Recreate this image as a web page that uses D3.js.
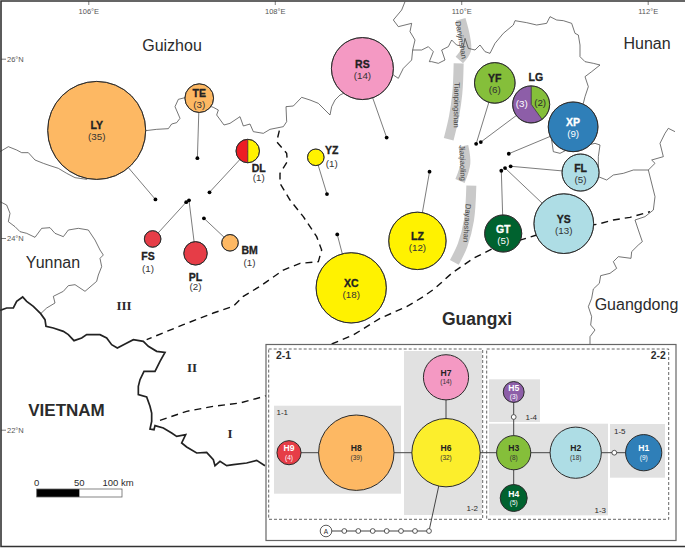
<!DOCTYPE html>
<html>
<head>
<meta charset="utf-8">
<script src="https://cdn.jsdelivr.net/npm/d3@7"></script>
<style>
  html, body { margin: 0; padding: 0; background: #fff; }
  svg { display: block; }
  text { font-family: "Liberation Sans", Arial, sans-serif; fill: #2b2b2b; }
  .tick text { font-size: 7.5px; fill: #555; }
  .tick line { stroke: #444; stroke-width: 0.7; }
</style>
</head>
<body>
<div class="chart"></div>
<script>
// Sites: name, sample count label, haplotypes and their counts
var siteNames = ["LY", "TE", "DL", "YZ", "FS", "PL", "BM", "RS", "YF", "LG", "XP", "FL", "YS", "GT", "LZ", "XC"];
var siteLabels = ["(35)", "(3)", "(1)", "(1)", "(1)", "(2)", "(1)", "(14)", "(6)", "", "(9)", "(5)", "(13)", "(5)", "(12)", "(18)"];
var siteHaps = [["H8"], ["H8"], ["H6", "H9"], ["H6"], ["H9"], ["H9"], ["H8"], ["H7"], ["H3"], ["H3", "H5"], ["H1"], ["H2"], ["H2"], ["H4"], ["H6"], ["H6"]];
var siteSlices = [[35], [3], [1, 1], [1], [1], [2], [1], [14], [6], [2, 3], [9], [5], [13], [5], [12], [18]];

// where the pie sits on the map
var pieLon = [106.09, 107.19, 107.71, 108.44, 106.69, 107.15, 107.52, 108.94, 110.36, 110.75, 111.20, 111.28, 111.10, 110.45, 109.53, 108.82];
var pieLat = [25.20, 25.56, 24.97, 24.90, 23.99, 23.84, 23.95, 25.89, 25.73, 25.49, 25.24, 24.73, 24.16, 24.05, 23.97, 23.48];
// the sampling locality
var dotLon = [106.72, 107.17, 107.30, 108.56, 107.05, 107.08, 107.24, 109.20, 110.16, 110.21, 110.51, 110.53, 110.47, 110.43, 109.66, 108.67];
var dotLat = [24.43, 24.89, 24.51, 24.49, 24.40, 24.42, 24.22, 25.12, 25.05, 25.07, 24.94, 24.80, 24.78, 24.75, 24.74, 24.04];

// Haplotypes
var hapNames = ["H1", "H2", "H3", "H4", "H5", "H6", "H7", "H8", "H9"];
var hapCounts = [9, 18, 8, 5, 3, 32, 14, 39, 4];
var hapColors = ["#2f7fb8", "#aedde5", "#85bf3a", "#00622f", "#8d5ea8", "#fff200", "#f499c3", "#fdb863", "#e63d47"];
var hapLight = ["H1", "H4", "H5", "H9"];

// Network layout units
var netX = [377.7, 309.7, 247.7, 247.7, 247.7, 180, 180, 90.3, 23];
var netY = [107.7, 107.7, 107.7, 153, 47, 107.7, 32.3, 107.7, 107.7];
var stepX = [247.7, 348.3];
var stepY = [72, 107.7];
var chainX = [78.3, 92.3, 106.7, 120.7, 135, 149, 163];
var chainY = 186;
var outgroupX = 60;

var lonTicks = [106, 108, 110, 112];
var latTicks = [26, 24, 22];
var kmTicks = [0, 50, 100];

var width = 685, height = 548;

var lonScale = d3.scaleLinear().domain([106, 112]).range([88.3, 647.7]);
var latScale = d3.scaleLinear().domain([26, 24, 22]).range([58.7, 238, 429.7]);
var kmScale = d3.scaleLinear().domain([0, 100]).range([36.7, 122]);
var siteR = d3.scaleSqrt().domain([0, 35]).range([0, 49]);
var netR = d3.scaleSqrt().domain([0, 39]).range([0, 37.7]);
var netXScale = d3.scaleLinear().domain([0, 410]).range([266, 676]);
var netYScale = d3.scaleLinear().domain([0, 196]).range([345, 541]);
var color = d3.scaleOrdinal().domain(hapNames).range(hapColors);

var svg = d3.select(".chart").append("svg")
  .attr("width", width)
  .attr("height", height);

// crop() takes outlines traced at 3x from a corner of the sheet
function crop(ox, oy, pts) {
  return pts.map(function (p) { return [ox + p[0] / 3, oy + p[1] / 3]; });
}

var ridgeA = crop(430, 10, [[92, 28], [105, 80], [108, 120], [88, 150]]);
var ridgeB = crop(430, 10, [[86, 160], [82, 250], [72, 320], [56, 388]]);
var ridgeC = crop(430, 135, [[100, 33], [106, 85], [90, 138]]);
var ridgeD = crop(430, 135, [[124, 152], [117, 255], [98, 330], [73, 382]]);

var thinLines = [
  // Guizhou - Guangxi
  crop(0, 0, [[0, 455], [25, 440], [50, 450], [65, 458], [85, 458], [105, 480], [130, 490], [150, 497], [175, 505], [200, 520], [225, 533], [260, 538], [437, 392], [470, 388], [505, 386], [515, 372], [530, 368], [540, 355], [525, 320], [535, 298], [555, 293], [640, 322], [655, 330], [650, 345], [672, 375], [690, 370], [720, 350], [730, 378], [750, 372], [760, 395], [790, 400], [810, 388], [850, 380], [860, 365], [858, 320], [880, 318], [905, 292], [930, 300], [955, 310], [975, 330], [990, 345], [995, 320], [1005, 300], [1020, 285], [1035, 278]])
    .concat(crop(340, 0, [[160, 225], [175, 235], [190, 205], [200, 195], [215, 180], [218, 150]])),
  // Guizhou - Hunan
  crop(340, 0, [[195, 5], [185, 30], [160, 60], [175, 80], [215, 70], [210, 95], [225, 120], [218, 150]]),
  // Guangxi - Hunan
  crop(340, 0, [[218, 150], [245, 150], [265, 140], [280, 155], [268, 185]])
    .concat(crop(430, 10, [[5, 155], [25, 160], [45, 150], [35, 120], [55, 110], [65, 90], [80, 105], [100, 110], [105, 85], [115, 115], [135, 120], [150, 105], [165, 125], [180, 130]]))
    .concat(crop(340, 0, [[465, 130], [490, 100], [520, 75], [525, 62], [560, 68], [590, 75], [620, 70], [630, 50], [650, 60], [670, 62], [695, 70], [705, 100], [715, 105], [720, 135], [720, 170], [735, 185], [760, 190], [780, 195], [755, 215], [735, 230], [745, 260], [735, 290], [730, 310], [700, 381], [635, 420], [640, 455], [660, 460], [680, 450], [765, 430], [780, 435], [775, 470], [775, 530], [800, 540], [820, 525], [850, 520], [880, 510], [925, 510], [945, 490], [935, 480], [970, 470], [960, 430], [975, 400], [985, 385], [1005, 395]])),
  // Guangxi - Guangdong
  crop(340, 0, [[925, 510], [945, 590], [940, 630], [915, 650], [885, 660]])
    .concat(crop(560, 210, [[235, 60], [247, 95], [235, 105], [215, 125], [213, 145], [175, 140], [160, 155], [170, 175], [150, 190], [122, 197], [118, 220], [100, 237], [95, 265], [85, 290], [95, 320], [92, 345], [105, 360], [90, 380], [90, 405]])),
  // Yunnan
  crop(0, 0, [[0, 605], [20, 615], [30, 640], [25, 665], [45, 680], [60, 695], [80, 700], [105, 712], [125, 685], [150, 683], [165, 700], [190, 710], [205, 690], [235, 685], [265, 690], [285, 720], [300, 750], [310, 765], [300, 775], [305, 800], [295, 825]])
    .concat(crop(0, 273, [[290, 25], [255, 55], [225, 35], [205, 38], [190, 55], [160, 70], [165, 90], [140, 105], [122, 122]]))
];

var vietnamBorder = crop(0, 273, [[0, 112], [20, 105], [40, 105], [50, 85], [68, 72], [80, 85], [100, 100], [122, 122], [135, 140], [138, 160], [160, 165], [190, 175], [205, 185], [222, 203], [245, 195], [260, 185], [300, 185], [320, 195], [335, 215], [352, 225], [375, 213], [400, 200], [430, 205], [445, 220], [470, 235], [495, 238], [480, 265], [465, 295], [432, 295], [420, 320], [415, 340], [415, 365], [440, 372], [450, 400], [455, 420], [455, 445], [450, 468], [462, 470], [465, 458], [490, 465], [515, 480], [530, 490], [557, 485], [545, 510], [560, 522], [590, 540], [620, 538], [640, 560], [645, 578], [660, 565], [680, 578], [700, 575], [740, 570], [770, 562], [795, 578]]);

// III / II and II / I dividing lines
var zoneLineA = crop(0, 0, [[838, 392], [830, 425], [860, 460], [862, 485], [840, 520], [840, 550], [870, 600], [910, 650], [950, 710], [965, 750], [955, 785], [900, 790], [850, 810]])
  .concat(crop(0, 273, [[780, 40], [730, 70], [700, 100], [640, 120], [550, 155], [440, 200]]));
var zoneLineB = crop(0, 273, [[480, 442], [560, 415], [640, 400], [720, 390], [800, 368]]);
var zoneLineC = crop(320, 240, [[35, 312], [100, 285], [180, 235], [260, 200], [310, 170], [345, 145], [395, 100], [460, 55], [520, 25]])
  .concat(crop(560, 210, [[-70, 75], [115, 42], [160, 30], [210, 22], [270, 5]]));

var line = d3.line();
var smooth = d3.line().curve(d3.curveCatmullRom);

// mountain ridges
svg.append("g").selectAll("path")
  .data([ridgeA, ridgeB, ridgeC, ridgeD])
  .enter().append("path")
  .attr("d", smooth)
  .attr("fill", "none")
  .attr("stroke", "#c9c9c9")
  .attr("stroke-width", 10);

svg.append("g").selectAll("path")
  .data(thinLines)
  .enter().append("path")
  .attr("d", line)
  .attr("fill", "none")
  .attr("stroke", "#3a3a3a")
  .attr("stroke-width", 0.7);

svg.append("path")
  .attr("d", line(vietnamBorder))
  .attr("fill", "none")
  .attr("stroke", "#222")
  .attr("stroke-width", 1.7);

svg.append("g").selectAll("path")
  .data([zoneLineA, zoneLineB, zoneLineC])
  .enter().append("path")
  .attr("d", line)
  .attr("fill", "none")
  .attr("stroke", "#111")
  .attr("stroke-width", 1.4)
  .attr("stroke-dasharray", "7,5");

// graticule ticks
var lonAxis = d3.axisBottom(lonScale)
  .tickValues(lonTicks)
  .tickSize(4)
  .tickPadding(4)
  .tickFormat(function (d) { return d + "°E"; });
var latAxis = d3.axisRight(latScale)
  .tickValues(latTicks)
  .tickSize(5)
  .tickPadding(1)
  .tickFormat(function (d) { return d + "°N"; });

svg.append("g").attr("transform", "translate(0,1)").call(lonAxis)
  .call(function (g) { g.select(".domain").remove(); });
svg.append("g").attr("transform", "translate(1,0)").call(latAxis)
  .call(function (g) { g.select(".domain").remove(); });

// ridge names
var ridgeLabels = [
  ["Danjinshan", 461, 40, 80],
  ["Tianpingshan", 456.5, 105, 91],
  ["Jiaqiaoling", 462.5, 163, 88],
  ["Dayaoshan", 467, 223, 94]
];
svg.append("g").selectAll("text")
  .data(ridgeLabels)
  .enter().append("text")
  .attr("transform", function (d) { return "translate(" + d[1] + "," + d[2] + ") rotate(" + d[3] + ")"; })
  .attr("text-anchor", "middle")
  .attr("dominant-baseline", "central")
  .attr("font-size", 7.6)
  .style("fill", "#444")
  .text(function (d) { return d[0]; });

// place names
var placeLabels = [
  ["Guizhou", 172, 51, 16, "normal"],
  ["Hunan", 647, 49, 16, "normal"],
  ["Yunnan", 53, 268, 16, "normal"],
  ["Guangdong", 636.5, 310, 16, "normal"],
  ["Guangxi", 477, 325, 17.5, "bold"],
  ["VIETNAM", 66.5, 416, 17, "bold"]
];
svg.append("g").selectAll("text")
  .data(placeLabels)
  .enter().append("text")
  .attr("x", function (d) { return d[1]; })
  .attr("y", function (d) { return d[2]; })
  .attr("text-anchor", "middle")
  .attr("font-size", function (d) { return d[3]; })
  .attr("font-weight", function (d) { return d[4]; })
  .text(function (d) { return d[0]; });

var zoneLabels = [["III", 124, 310], ["II", 192, 372], ["I", 230, 438]];
svg.append("g").selectAll("text")
  .data(zoneLabels)
  .enter().append("text")
  .attr("x", function (d) { return d[1]; })
  .attr("y", function (d) { return d[2]; })
  .attr("text-anchor", "middle")
  .attr("font-size", 13)
  .attr("font-weight", "bold")
  .style("font-family", "'Liberation Serif', serif")
  .text(function (d) { return d[0]; });

// scale bar
svg.append("rect")
  .attr("x", kmScale(0)).attr("y", 489)
  .attr("width", kmScale(50) - kmScale(0)).attr("height", 8)
  .attr("fill", "#000");
svg.append("rect")
  .attr("x", kmScale(0)).attr("y", 489)
  .attr("width", kmScale(100) - kmScale(0)).attr("height", 8)
  .attr("fill", "none")
  .attr("stroke", "#666")
  .attr("stroke-width", 0.8);
svg.append("g").selectAll("text")
  .data(kmTicks)
  .enter().append("text")
  .attr("x", function (d) { return kmScale(d) + (d == 100 ? -4 : 0); })
  .attr("y", 486)
  .attr("text-anchor", "middle")
  .attr("font-size", 9.5)
  .text(function (d) { return d == 100 ? "100 km" : d; });

// leaders and sampling dots
var siteIndex = d3.range(siteNames.length);

svg.append("g").selectAll("line")
  .data(siteIndex)
  .enter().append("line")
  .attr("x1", function (i) { return lonScale(dotLon[i]); })
  .attr("y1", function (i) { return latScale(dotLat[i]); })
  .attr("x2", function (i) { return lonScale(pieLon[i]); })
  .attr("y2", function (i) { return latScale(pieLat[i]); })
  .attr("stroke", "#444")
  .attr("stroke-width", 0.7);

svg.append("g").selectAll("circle")
  .data(siteIndex)
  .enter().append("circle")
  .attr("cx", function (i) { return lonScale(dotLon[i]); })
  .attr("cy", function (i) { return latScale(dotLat[i]); })
  .attr("r", 1.9)
  .attr("fill", "#000");

// site pies
var pie = d3.pie().sort(null);
var sitePies = svg.append("g").selectAll("g")
  .data(siteIndex)
  .enter().append("g")
  .attr("transform", function (i) { return "translate(" + lonScale(pieLon[i]) + "," + latScale(pieLat[i]) + ")"; });

sitePies.each(function (i) {
  var r = siteR(d3.sum(siteSlices[i]));
  var arc = d3.arc().innerRadius(0).outerRadius(r);
  var g = d3.select(this);
  g.selectAll("path")
    .data(pie(siteSlices[i]))
    .enter().append("path")
    .attr("d", arc)
    // DL is printed in a purer red than the other H9 sites
    .attr("fill", function (d, k) { return siteNames[i] == "DL" && k == 1 ? "#ed1c24" : color(siteHaps[i][k]); })
    .attr("stroke", "#333")
    .attr("stroke-width", 0.6);
  g.append("circle")
    .attr("r", r)
    .attr("fill", "none")
    .attr("stroke", "#2b2b2b")
    .attr("stroke-width", 1);
});

// names outside the pie: dx, name dy, count dy
var outsideLabels = {
  DL: [11, 16.7, 26.9],
  YZ: [16, -7, 5.7],
  FS: [-4.7, 16.7, 29.3],
  PL: [0, 23.2, 33.6],
  BM: [19.6, 7, 19.7],
  LG: [4.7, -27.7, null]
};
function isLight(i) { return hapLight.indexOf(siteHaps[i][0]) >= 0 && siteHaps[i].length == 1; }

sitePies.append("text")
  .attr("x", function (i) { var o = outsideLabels[siteNames[i]]; return o ? o[0] : 0; })
  .attr("y", function (i) { var o = outsideLabels[siteNames[i]]; return o ? o[1] : -5; })
  .attr("text-anchor", "middle")
  .attr("dominant-baseline", "central")
  .attr("font-size", 10.5)
  .attr("font-weight", "bold")
  .attr("stroke-width", 0.3)
  .style("stroke", function (i) { return isLight(i) && !outsideLabels[siteNames[i]] ? "#fff" : "#222"; })
  .style("fill", function (i) { return isLight(i) && !outsideLabels[siteNames[i]] ? "#fff" : "#222"; })
  .text(function (i) { return siteNames[i]; });

sitePies.append("text")
  .attr("x", function (i) { var o = outsideLabels[siteNames[i]]; return o ? o[0] : 0; })
  .attr("y", function (i) { var o = outsideLabels[siteNames[i]]; return o ? o[2] : 6.5; })
  .attr("text-anchor", "middle")
  .attr("dominant-baseline", "central")
  .attr("font-size", 9.8)
  .style("fill", function (i) { return isLight(i) && !outsideLabels[siteNames[i]] ? "#fff" : "#333"; })
  .text(function (i) { return siteLabels[i]; });

// LG carries its counts on the slices
var lgIndex = siteNames.indexOf("LG");
var lgCenter = [lonScale(pieLon[lgIndex]), latScale(pieLat[lgIndex])];
svg.append("text")
  .attr("x", lgCenter[0] + 9).attr("y", lgCenter[1] - 2)
  .attr("text-anchor", "middle").attr("dominant-baseline", "central")
  .attr("font-size", 9.8)
  .text("(" + siteSlices[lgIndex][0] + ")");
svg.append("text")
  .attr("x", lgCenter[0] - 9.3).attr("y", lgCenter[1] - 1.4)
  .attr("text-anchor", "middle").attr("dominant-baseline", "central")
  .attr("font-size", 9.8)
  .style("fill", "#fff")
  .text("(" + siteSlices[lgIndex][1] + ")");

// Inset: haplotype network
svg.append("rect")
  .attr("x", 266).attr("y", 344.5)
  .attr("width", 410).attr("height", 196)
  .attr("fill", "#fff")
  .attr("stroke", "#666")
  .attr("stroke-width", 1.2);

var groupBoxes = [
  [274, 405.7, 127, 88],
  [404, 351, 78, 164],
  [489, 423.7, 119, 91.6],
  [489, 379.3, 51, 42.7],
  [610, 424, 55, 53.7]
];
svg.append("g").selectAll("rect")
  .data(groupBoxes)
  .enter().append("rect")
  .attr("x", function (d) { return d[0]; })
  .attr("y", function (d) { return d[1]; })
  .attr("width", function (d) { return d[2]; })
  .attr("height", function (d) { return d[3]; })
  .attr("fill", "#e1e1e1");

var cladeBoxes = [
  [268.7, 349, 214, 170.3],
  [486.7, 349, 182, 170.3]
];
svg.append("g").selectAll("rect")
  .data(cladeBoxes)
  .enter().append("rect")
  .attr("x", function (d) { return d[0]; })
  .attr("y", function (d) { return d[1]; })
  .attr("width", function (d) { return d[2]; })
  .attr("height", function (d) { return d[3]; })
  .attr("fill", "none")
  .attr("stroke", "#555")
  .attr("stroke-width", 0.9)
  .attr("stroke-dasharray", "3,2");

var insetLabels = [
  ["2-1", 276, 358.5, 10.4, "bold", "start"],
  ["2-2", 665.7, 358.5, 10.4, "bold", "end"],
  ["1-1", 276.5, 414.5, 8, "normal", "start"],
  ["1-2", 478, 511, 8, "normal", "end"],
  ["1-3", 606, 513, 8, "normal", "end"],
  ["1-4", 537, 419.5, 8, "normal", "end"],
  ["1-5", 614, 433.5, 8, "normal", "start"]
];
svg.append("g").selectAll("text")
  .data(insetLabels)
  .enter().append("text")
  .attr("x", function (d) { return d[1]; })
  .attr("y", function (d) { return d[2]; })
  .attr("font-size", function (d) { return d[3]; })
  .attr("font-weight", function (d) { return d[4]; })
  .attr("text-anchor", function (d) { return d[5]; })
  .text(function (d) { return d[0]; });

function hapPoint(name) {
  var k = hapNames.indexOf(name);
  return [netXScale(netX[k]), netYScale(netY[k])];
}
var stepPoints = stepX.map(function (x, k) { return [netXScale(x), netYScale(stepY[k])]; });
var chainPoints = chainX.map(function (x) { return [netXScale(x), netYScale(chainY)]; });
var outgroupPoint = [netXScale(outgroupX), netYScale(chainY)];

var netLinks = [
  [hapPoint("H9"), hapPoint("H8")],
  [hapPoint("H8"), hapPoint("H6")],
  [hapPoint("H6"), hapPoint("H7")],
  [hapPoint("H6"), hapPoint("H3")],
  [hapPoint("H3"), hapPoint("H2")],
  [hapPoint("H2"), stepPoints[1]],
  [stepPoints[1], hapPoint("H1")],
  [hapPoint("H3"), hapPoint("H4")],
  [hapPoint("H3"), stepPoints[0]],
  [stepPoints[0], hapPoint("H5")],
  [hapPoint("H6"), chainPoints[chainPoints.length - 1]],
  [outgroupPoint, chainPoints[chainPoints.length - 1]]
];
svg.append("g").selectAll("path")
  .data(netLinks)
  .enter().append("path")
  .attr("d", line)
  .attr("stroke", "#444")
  .attr("stroke-width", 1);

svg.append("g").selectAll("circle")
  .data(stepPoints.concat(chainPoints))
  .enter().append("circle")
  .attr("cx", function (d) { return d[0]; })
  .attr("cy", function (d) { return d[1]; })
  .attr("r", 2.4)
  .attr("fill", "#fff")
  .attr("stroke", "#333")
  .attr("stroke-width", 0.8);

svg.append("circle")
  .attr("cx", outgroupPoint[0]).attr("cy", outgroupPoint[1])
  .attr("r", 5.8)
  .attr("fill", "#fff")
  .attr("stroke", "#333")
  .attr("stroke-width", 0.8);
svg.append("text")
  .attr("x", outgroupPoint[0]).attr("y", outgroupPoint[1])
  .attr("text-anchor", "middle").attr("dominant-baseline", "central")
  .attr("font-size", 6.5)
  .text("A");

var nodes = svg.append("g").selectAll("g")
  .data(hapNames)
  .enter().append("g")
  .attr("transform", function (d) { var p = hapPoint(d); return "translate(" + p[0] + "," + p[1] + ")"; });

nodes.append("circle")
  .attr("r", function (d, i) { return netR(hapCounts[i]); })
  // the inset yellow is a softer ink than the map's
  .attr("fill", function (d) { return d == "H6" ? "#fcee2c" : color(d); })
  .attr("stroke", "#2b2b2b")
  .attr("stroke-width", 1);

nodes.append("text")
  .attr("y", -4.5)
  .attr("text-anchor", "middle").attr("dominant-baseline", "central")
  .attr("font-size", 8.6)
  .attr("font-weight", "bold")
  .style("fill", function (d) { return hapLight.indexOf(d) >= 0 ? "#fff" : "#222"; })
  .text(function (d) { return d; });

nodes.append("text")
  .attr("y", 4.5)
  .attr("text-anchor", "middle").attr("dominant-baseline", "central")
  .attr("font-size", 6.5)
  .style("fill", function (d) { return hapLight.indexOf(d) >= 0 ? "#fff" : "#333"; })
  .text(function (d, i) { return "(" + hapCounts[i] + ")"; });

// sheet frame, open on the right
svg.append("path")
  .attr("d", line([[685, 1], [1, 1], [1, 546.5], [685, 546.5]]))
  .attr("fill", "none")
  .attr("stroke", "#333")
  .attr("stroke-width", 1.6);
</script>
</body>
</html>
